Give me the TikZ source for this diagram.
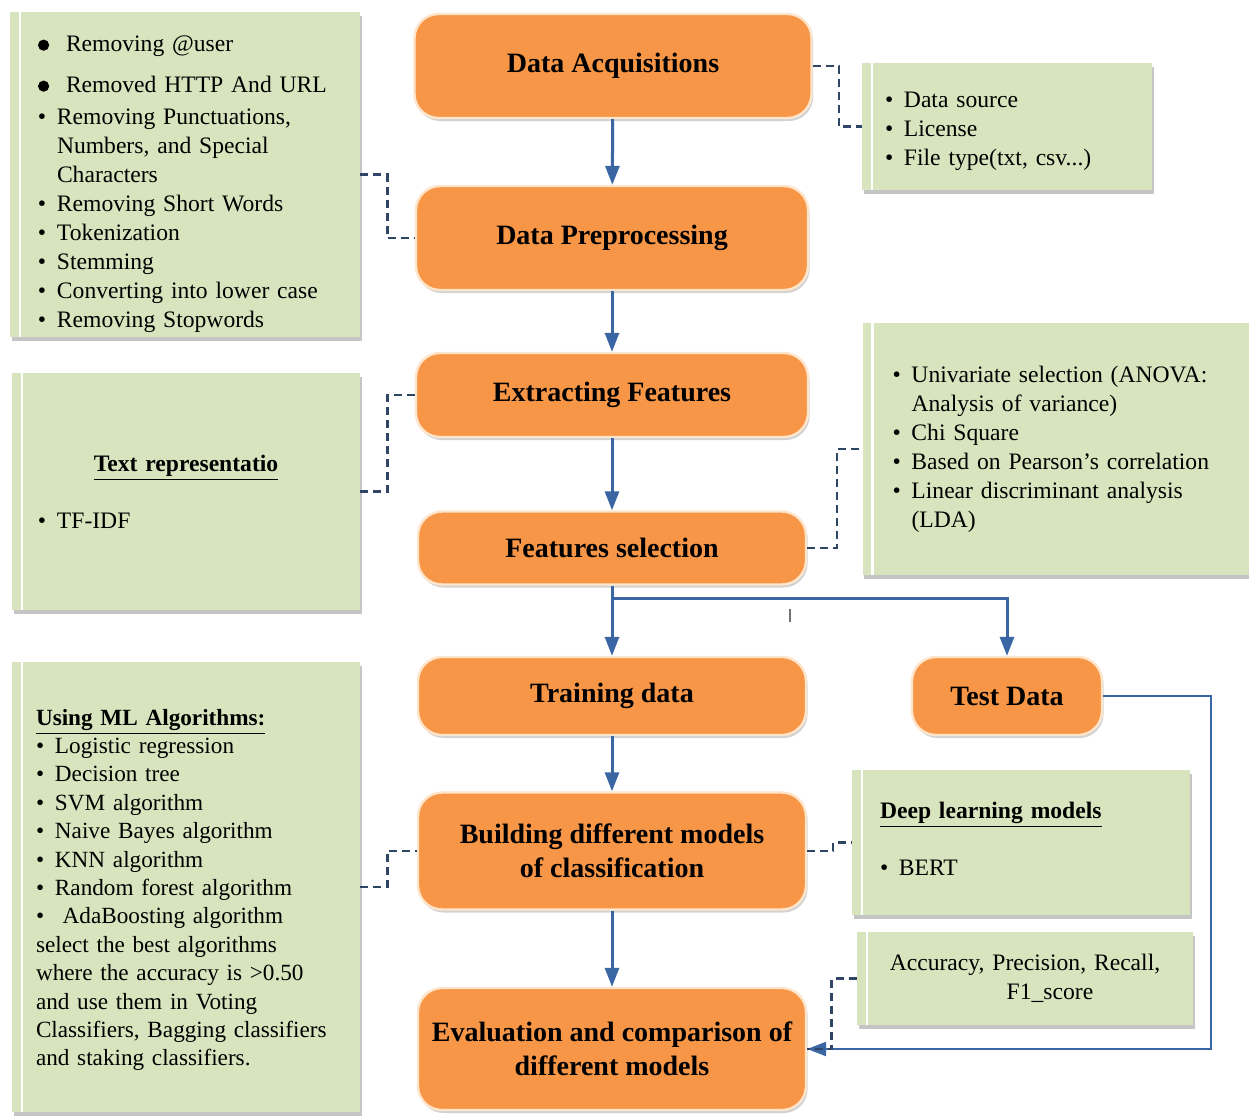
\documentclass[tikz,border=0pt]{standalone}
\usepackage{fontspec}
\setmainfont{Liberation Serif}
\usetikzlibrary{arrows.meta,shadows}

\definecolor{stepfill}{HTML}{F79646}
\definecolor{notefill}{HTML}{D7E4BD}
\definecolor{flowblue}{HTML}{3A67A4}
\definecolor{linkgray}{HTML}{2F4566}

\newcommand{\bul}{\makebox[9.5pt][l]{\textbullet}}
\newcommand{\bigbul}{\makebox[14pt][l]{\tikz[baseline=-3.4pt]\fill[black] (0,0) circle (2.8pt);}}

\begin{document}
\begin{tikzpicture}[
  x=0.5pt, y=-0.5pt,
  stepbox/.style={draw=orange!20, line width=1.2pt, fill=stepfill, rounded corners=12pt,
    align=center, font=\fontsize{14}{17}\selectfont\bfseries,
    drop shadow={shadow xshift=0.8pt, shadow yshift=-1.5pt, opacity=0.35}},
  notebox/.style={fill=notefill, inner xsep=14pt, inner ysep=2pt, align=left,
    font=\fontsize{11.8}{14.5}\selectfont,
    drop shadow={shadow xshift=0.8pt, shadow yshift=-2pt, opacity=0.45},
    path picture={\draw[white, line width=1.2pt]
      ([xshift=5pt]path picture bounding box.north west) -- ([xshift=5pt]path picture bounding box.south west);}},
  flow/.style={flowblue, line width=1.5pt, -{Triangle[length=9.5pt,width=7pt]}},
  link/.style={linkgray, line width=1.2pt, dash pattern=on 4pt off 2.5pt},
]
\useasboundingbox (0,0) rectangle (1249,1116);
\fill[white] (0,0) rectangle (1249,1116);

% main steps
\node (acq) [stepbox, minimum width=198.5pt, minimum height=52pt] at (613,66) {Data Acquisitions};
\node (pre) [stepbox, minimum width=196pt, minimum height=52pt] at (612,238) {Data Preprocessing};
\node (ext) [stepbox, minimum width=196pt, minimum height=42pt] at (612,395) {Extracting Features};
\node (sel) [stepbox, minimum width=194pt, minimum height=36.5pt] at (612,548) {Features selection};
\node (train) [stepbox, minimum width=194pt, minimum height=39pt] at (612,696) {Training data};
\node (test) [stepbox, minimum width=95pt, minimum height=39pt] at (1007,696) {Test Data};
\node (build) [stepbox, minimum width=194pt, minimum height=58.5pt] at (612,851) {Building different models\\of classification};
\node (eval) [stepbox, minimum width=194pt, minimum height=61pt] at (612,1049) {Evaluation and comparison of\\different models};

% side notes
\node (prepnote) [notebox, text width=147pt, minimum height=162.5pt] at (185,174.5) {%
  \rule{0pt}{18pt}\bigbul Removing @user\\[6pt]
  \bigbul Removed HTTP And URL\\[1.5pt]
  \bul Removing Punctuations,\\
  \hspace*{9.5pt}Numbers, and Special\\
  \hspace*{9.5pt}Characters\\
  \bul Removing Short Words\\
  \bul Tokenization\\
  \bul Stemming\\
  \bul Converting into lower case\\
  \bul Removing Stopwords};
\node (srcnote) [notebox, inner xsep=11.5pt, text width=122pt, minimum height=63.5pt] at (1007,126.5) {%
  \rule{0pt}{12.5pt}\bul Data source\\
  \bul License\\
  \bul File type(txt, csv...)};
\node (reprnote) [notebox, inner xsep=13pt, text width=148pt, minimum height=118.5pt] at (186,491.5) {%
  \makebox[\linewidth]{\underline{\textbf{Text representatio}}}\\[14pt]
  \bul TF-IDF};
\node (selnote) [notebox, inner xsep=15pt, text width=163pt, minimum height=126pt] at (1055.5,449) {%
  \bul Univariate selection (ANOVA:\\
  \hspace*{9.5pt}Analysis of variance)\\
  \bul Chi Square\\
  \bul Based on Pearson’s correlation\\
  \bul Linear discriminant analysis\\
  \hspace*{9.5pt}(LDA)};
\node (mlnote) [notebox, inner xsep=12pt, text width=150pt, minimum height=225pt,
  font=\fontsize{11.6}{14.2}\selectfont] at (186,887) {%
  \rule{0pt}{11pt}\underline{\textbf{Using ML Algorithms:}}\\
  \bul Logistic regression\\
  \bul Decision tree\\
  \bul SVM algorithm\\
  \bul Naive Bayes algorithm\\
  \bul KNN algorithm\\
  \bul Random forest algorithm\\
  \bul\ AdaBoosting algorithm\\
  select the best algorithms\\
  where the accuracy is >0.50\\
  and use them in Voting\\
  Classifiers, Bagging classifiers\\
  and staking classifiers.};
\node (deepnote) [notebox, text width=141pt, minimum height=72.5pt] at (1021,842.5) {%
  \underline{\textbf{Deep learning models}}\\[14pt]
  \bul BERT\rule[-4pt]{0pt}{4pt}};
\node (accnote) [notebox, align=center, text width=140pt, minimum height=46.5pt] at (1025,978.5) {%
  Accuracy, Precision, Recall,\\
  \hspace*{25pt}F1\_score};

% flow between steps
\draw[flow] (acq) -- (pre);
\draw[flow] (pre) -- (ext);
\draw[flow] (ext) -- (sel);
\draw[flow] (sel.south) -- (train.north);
\draw[flow] (sel.south) -- ++(0,13) -| (test.north);
\draw[flow] (train) -- (build);
\draw[flow] (build) -- (eval);
\draw[flow, line width=1.2pt] (test.east) -- ++(108,0) |- (eval.east);
\draw[black!55, line width=0.6pt] (790,609) -- (790,622);

% dashed links to notes
\draw[link] (acq.east) -- ++(26,0) |- (srcnote.west);
\draw[link] (prepnote.east) -- ++(27,0) |- (pre.west);
\draw[link] (reprnote.east) -- ++(27,0) |- (ext.west);
\draw[link] (sel.east) -- ++(30,0) |- (selnote.west);
\draw[link] (mlnote.east) -- ++(27,0) |- (build.west);
\draw[link] (build.east) -- ++(26,0) |- (deepnote.west);
\draw[link] (accnote.west) -- ++(-25,0) |- (eval.east);

\end{tikzpicture}
\end{document}
